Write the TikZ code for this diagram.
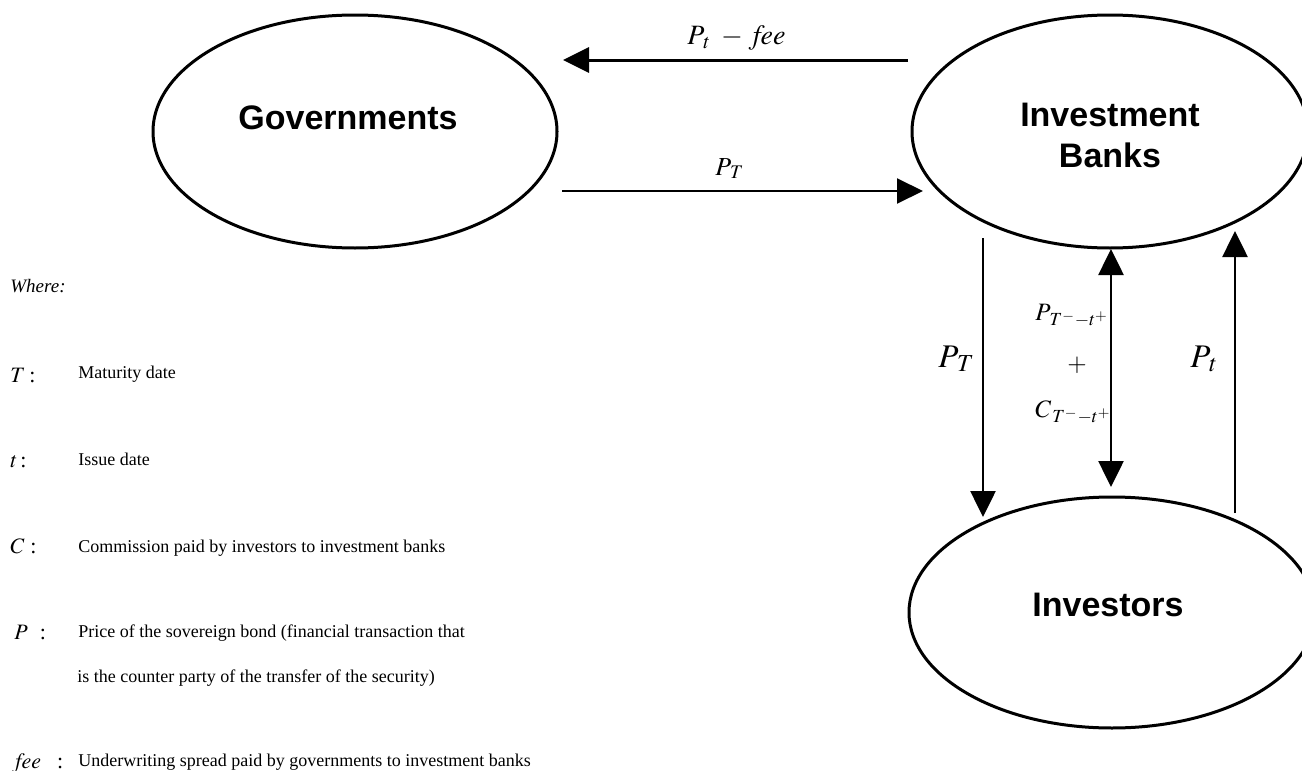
\documentclass[tikz,border=0pt]{standalone}
\usepackage{mathptmx}
\usepackage{fontspec}
\setmainfont{Liberation Serif}
\setsansfont{Liberation Sans}
\usetikzlibrary{shapes.geometric,arrows.meta}

\begin{document}
\begin{tikzpicture}[x=0.5pt, y=-0.5pt,
  party/.style={ellipse, draw, line width=1.5pt, inner sep=0},
  partyname/.style={font=\sffamily\bfseries\fontsize{17}{20.5}\selectfont, align=center, inner sep=0},
  flow/.style={-{Triangle[length=13pt,width=12.5pt]}, line width=1.3pt},
  amount/.style={anchor=base west, inner sep=0, font=\fontsize{16.5}{18}\selectfont},
  smallamount/.style={anchor=base west, inner sep=0, font=\fontsize{12.5}{15}\selectfont},
  sym/.style={anchor=base west, inner sep=0, font=\fontsize{11}{13}\selectfont},
  expl/.style={anchor=base west, inner sep=0, font=\fontsize{9}{11}\selectfont}]

\useasboundingbox (0,0) rectangle (1302,771);

% the three parties
\node[party, minimum width=202pt, minimum height=116.5pt] (gov) at (355,131.5) {};
\node[party, minimum width=198pt, minimum height=116.5pt] (ib) at (1110,131.5) {};
\node[party, minimum width=203pt, minimum height=115.5pt] (inv) at (1112,612.5) {};

\node[partyname] (govname) at ([xshift=-3.5pt, yshift=6.75pt]gov.center) {Governments};
\node[partyname] (ibname) at ([yshift=-2pt]ib.center) {Investment\\Banks};
\node[partyname] (invname) at ([xshift=-2pt, yshift=3.75pt]inv.center) {Investors};

% ends of the flows
\coordinate (feeS) at (908,60);
\coordinate (feeE) at (563,60);
\coordinate (repS) at (562,191);
\coordinate (repE) at (923,191);
\coordinate (dnS) at (983,238);
\coordinate (dnE) at (983,517);
\coordinate (midS) at (1111,249);
\coordinate (midE) at (1111,487);
\coordinate (upS) at (1235,513);
\coordinate (upE) at (1235,231);

\draw[flow, line width=1.5pt] (feeS) -- (feeE);
\draw[flow, line width=1pt] (repS) -- (repE);
\draw[flow] (dnS) -- (dnE);
\draw[flow, {Triangle[length=13pt,width=12.5pt]}-{Triangle[length=13pt,width=12.5pt]}] (midS) -- (midE);
\draw[flow] (upS) -- (upE);

% amounts
\node[amount, font=\fontsize{14}{16}\selectfont] (lfee) at (687,44) {$P_{\,t} \;-\; \mathit{fee}$};
\node[amount, font=\fontsize{13}{15}\selectfont] (lrep) at (715,175) {$P_{\,T}$};
\node[amount] (ldn) at (938,367) {$P_{\,T}$};
\node[amount] (lup) at (1190,367) {$P_{\,t}$};
\node[smallamount] (lmidP) at (1035,320) {$P_{\,T^- - t^+}$};
\node[smallamount, anchor=center] (lplus) at (1077,365) {$+$};
\node[smallamount] (lmidC) at (1035,417) {$C_{\,T^- - t^+}$};

% legend
\node[expl, font=\itshape\fontsize{9.5}{11}\selectfont] (where) at (10,292) {Where:};

\node[sym] (symT) at (10,382) {$T$\hspace{2pt}:};
\node[expl] (descT) at (78,378) {Maturity date};

\node[sym] (symt) at (10,467) {$t$\hspace{1.5pt}:};
\node[expl] (desct) at (78,465) {Issue date};

\node[sym] (symC) at (10,553) {$C$\hspace{3pt}:};
\node[expl] (descC) at (78,552) {Commission paid by investors to investment banks};

\node[sym] (symP) at (14,639) {$P$\hspace{6pt}:};
\node[expl] (descP) at (78,637) {Price of the sovereign bond (financial transaction that};
\node[expl] (descPb) at (77,682) {is the counter party of the transfer of the security)};

\node[sym] (symfee) at (15,768) {$\mathit{fee}$\hspace{8pt}:};
\node[expl] (descfee) at (78,766) {Underwriting spread paid by governments to investment banks};

\end{tikzpicture}
\end{document}
